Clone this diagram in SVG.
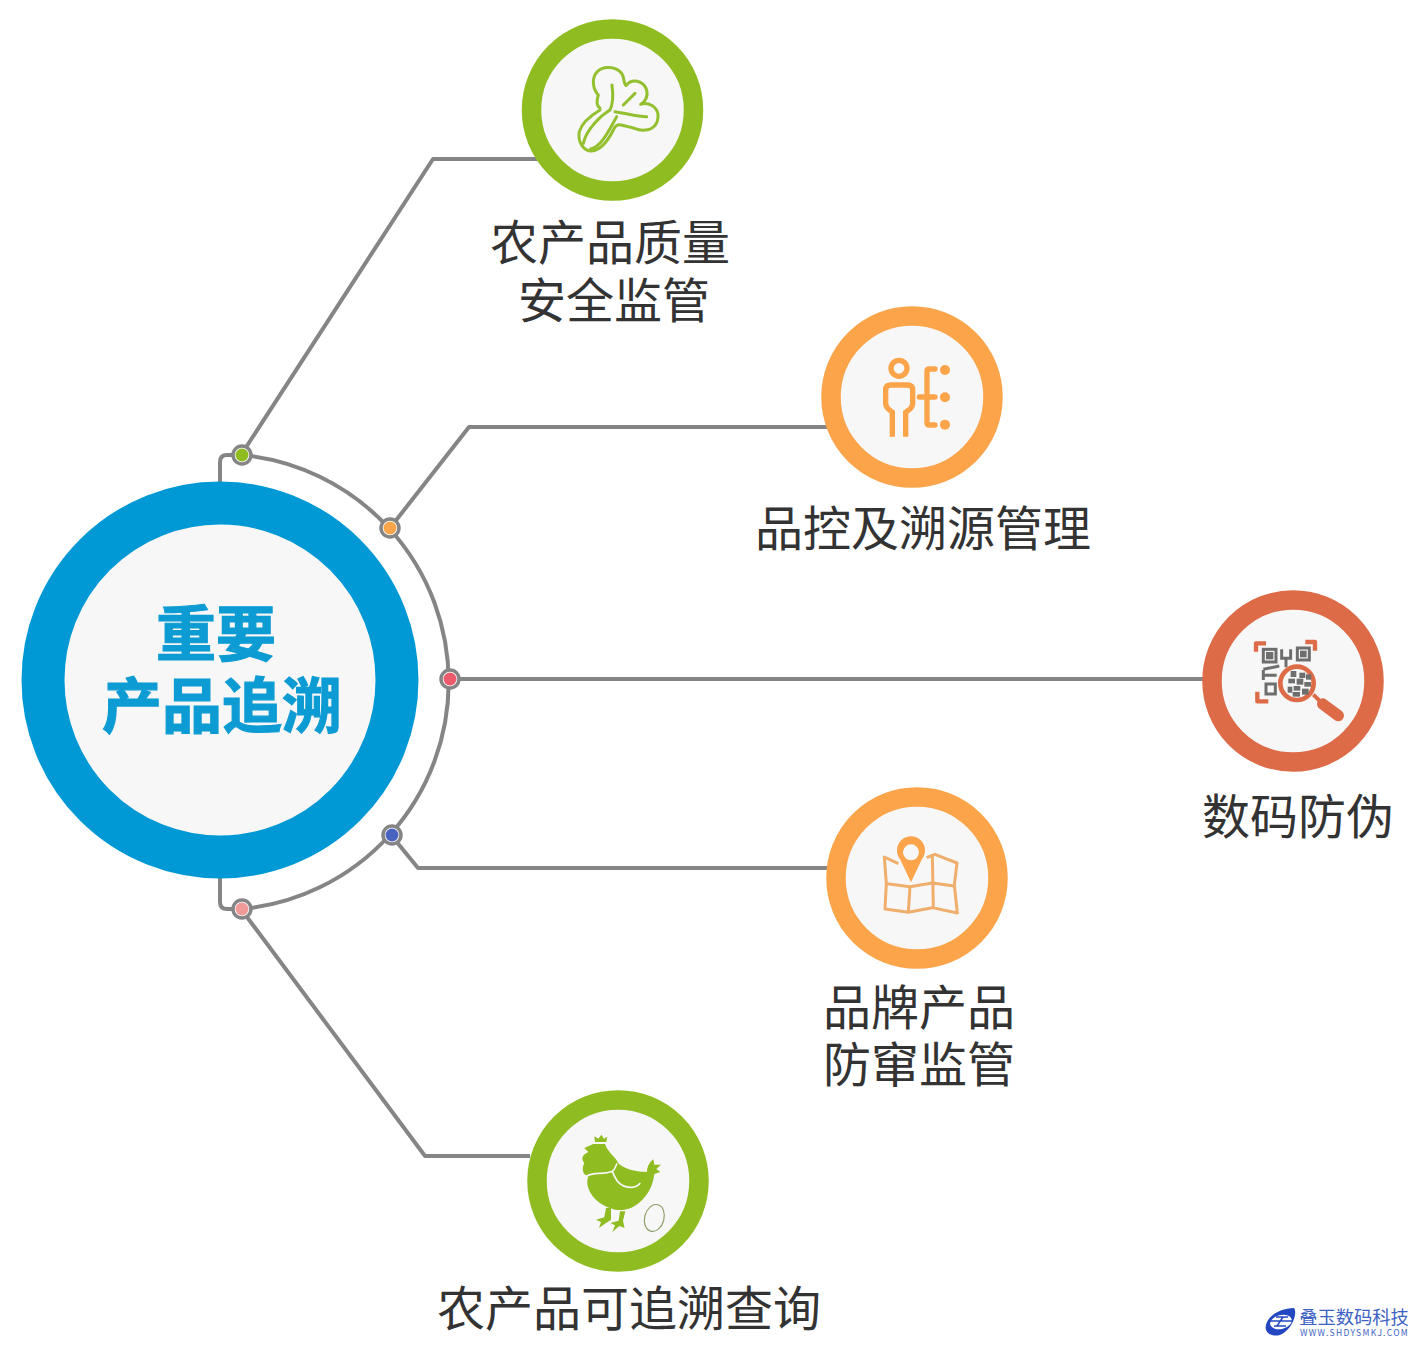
<svg xmlns="http://www.w3.org/2000/svg" width="1428" height="1357" viewBox="0 0 1428 1357">
<style>
.ring{fill:#f7f7f7;stroke-width:19.500}
.green{stroke:#8fbc21}.orange{stroke:#fba44a}.red{stroke:#de6b47}
.conn{fill:none;stroke:#858585;stroke-width:4;stroke-linejoin:round}
.dot{stroke:#858585;stroke-width:3.500;fill:#fff}
text{font-family:"Noto Sans CJK SC","Noto Sans",sans-serif;text-anchor:middle}
.lbl{font-size:48px;fill:#333}
.title{font-size:60px;font-weight:700;fill:#0d9bd3;stroke:#0d9bd3;stroke-width:1.200}
.ln{fill:none;stroke-linecap:round;stroke-linejoin:round}
.qr{fill:#6e6e6e}
</style>
<rect width="1428" height="1357" fill="#fff"/>
<g id="connectors">
<path class="conn" d="M241,455 L433,159 L540,159"/>
<path class="conn" d="M390,528 L469,427 L830,427"/>
<path class="conn" d="M449,679 L1205,679"/>
<path class="conn" d="M391,835 L418,868 L830,868"/>
<path class="conn" d="M241,909 L425,1156 L530,1156"/>
<path class="conn" d="M220,483 L220,462 Q220,455 227,455 L241,455"/>
<path class="conn" d="M220,878 L220,902 Q220,909 227,909 L241,909"/>
<path class="conn" d="M242,455 A228,228 0 0 1 242,909"/>
</g>
<g id="junctions">
<circle class="dot" cx="242" cy="455" r="9"/><circle cx="242" cy="455" r="6.500" fill="#8fbc21"/>
<circle class="dot" cx="390" cy="528" r="9"/><circle cx="390" cy="528" r="6.500" fill="#fba44a"/>
<circle class="dot" cx="450" cy="679" r="9"/><circle cx="450" cy="679" r="6.500" fill="#ec5a6c"/>
<circle class="dot" cx="392" cy="835" r="9"/><circle cx="392" cy="835" r="6.500" fill="#4a62c0"/>
<circle class="dot" cx="242" cy="909" r="9"/><circle cx="242" cy="909" r="6.500" fill="#f09a9a"/>
</g>
<g id="hub">
<circle cx="220" cy="680" r="177" fill="#f7f7f7" stroke="#0099d5" stroke-width="43"/>
<text class="title" x="216" y="656">重要</text>
<text class="title" x="222" y="728">产品追溯</text>
</g>
<g id="node-quality">
<circle class="ring green" cx="612.500" cy="110" r="81"/>
<g transform="translate(520,15) scale(.3333)" class="ln" stroke="#93c02f" stroke-width="9">
<path d="M240,280 C225,270 232,250 235,240 C220,225 212,190 232,170 C250,150 290,155 305,175 C315,190 308,200 318,212 C335,190 370,195 380,225 C385,245 375,262 362,268 C385,260 412,275 414,300 C416,330 395,345 375,345 C355,350 340,335 325,335 C305,332 290,320 280,345 C265,375 245,405 215,408 C190,408 172,380 178,350 C185,325 215,300 240,285"/>
<path d="M276,210 C280,240 280,265 270,285 C245,300 200,340 190,385"/>
<path d="M285,290 C320,295 350,305 380,305"/>
<path d="M310,270 L345,235"/>
<path d="M212,402 C245,395 270,340 290,305"/>
</g>
<text class="lbl" x="610" y="260">农产品质量</text>
<text class="lbl" x="614" y="318">安全监管</text>
</g>
<g id="node-control">
<circle class="ring orange" cx="912" cy="397" r="81"/>
<g transform="translate(820,305) scale(.3333)" fill="none" stroke="#fba44a" stroke-width="16">
<circle cx="237" cy="190" r="24"/>
<path d="M217,395 L217,322 L205,312 Q197,305 197,295 L197,255 Q197,240 212,240 L262,240 Q278,240 278,255 L278,295 Q278,305 270,312 L257,322 L257,395"/>
<path d="M345,192 L328,192 Q321,192 321,199 L321,353 Q321,360 328,360 L345,360 M298,276 L345,276" stroke-linecap="round"/>
<g fill="#fba44a" stroke="none"><circle cx="375" cy="195" r="15"/><circle cx="375" cy="277" r="15"/><circle cx="375" cy="359" r="15"/></g>
</g>
<text class="lbl" x="923" y="546">品控及溯源管理</text>
</g>
<g id="node-antifake">
<circle class="ring red" cx="1293" cy="681" r="81"/>
<g transform="translate(1200,590) scale(.3333)">
<g fill="none" stroke="#de6b47" stroke-width="13" stroke-linejoin="round">
<path d="M168,185 L168,160 L198,160"/>
<path d="M316,156 L345,156 L345,182"/>
<path d="M172,305 L172,334 L205,334"/>
</g>
<g fill="none" stroke="#6e6e6e" stroke-width="9">
<rect x="190" y="178" width="38" height="38"/>
<rect x="198" y="282" width="28" height="30"/>
<rect x="292" y="174" width="36" height="36"/>
<path d="M190,238 L238,228 M190,256 L230,256 M245,178 L245,205 L272,205 L272,178 M258,205 L258,232 M190,240 L190,270"/>
</g>
<rect class="qr" x="198" y="186" width="22" height="22"/><rect class="qr" x="300" y="182" width="20" height="20"/>
<circle cx="291" cy="280" r="50" fill="#f7f7f7" stroke="#de6b47" stroke-width="14"/>
<path d="M368,342 L415,377" stroke="#de6b47" stroke-width="34" stroke-linecap="round"/>
<path d="M340,314 L372,345" stroke="#de6b47" stroke-width="12"/>
<g class="qr"><rect x="272" y="243" width="17" height="18"/><rect x="298" y="248" width="18" height="16"/><rect x="318" y="253" width="16" height="16"/><rect x="265" y="266" width="20" height="14"/><rect x="290" y="266" width="20" height="18"/><rect x="313" y="276" width="20" height="14"/><rect x="263" y="290" width="14" height="18"/><rect x="281" y="288" width="20" height="14"/><rect x="306" y="296" width="20" height="18"/><rect x="278" y="306" width="22" height="14"/></g>
</g>
<text class="lbl" x="1298" y="834">数码防伪</text>
</g>
<g id="node-brand">
<circle class="ring orange" cx="917" cy="878" r="81"/>
<g transform="translate(825,785) scale(.3333)">
<g fill="none" stroke="#f0ae6c" stroke-width="9" stroke-linejoin="round">
<path d="M220,236 L178,216 L184,295 L180,372 L250,382 L322,368 L397,384 L388,300 L396,234 L330,208 L305,218"/>
<path d="M186,296 L255,305 L322,294 L388,303 M255,305 L250,382 M322,208 L325,368"/>
</g>
<path d="M258,292 L225,222 A42,42 0 1 1 291,222 Z" fill="#fba44a"/>
<circle cx="258" cy="202" r="24" fill="#f7f7f7"/>
</g>
<text class="lbl" x="919" y="1025">品牌产品</text>
<text class="lbl" x="919" y="1082">防窜监管</text>
</g>
<g id="node-query">
<circle class="ring green" cx="618" cy="1181" r="81"/>
<g transform="translate(525,1088) scale(.3333)">
<path d="M210,162 L208,145 L220,152 L229,140 L237,152 L247,146 L244,162 Z" fill="#8fbc21"/>
<path d="M178,180 L205,168 L240,168 C250,195 270,205 280,226 C300,245 335,252 366,252 C366,235 375,222 385,214 L388,230 L408,230 L394,243 L406,252 L388,258 C384,290 372,318 345,342 C325,360 300,370 270,365 C240,358 210,340 197,315 C185,295 185,278 190,265 C175,262 168,245 178,225 C170,215 170,205 180,198 L190,192 Z" fill="#8fbc21"/>
<path d="M243,360 L238,388 L213,395 L228,402 L222,420 L244,404 L258,396 L258,360 Z" fill="#8fbc21"/>
<path d="M285,370 L281,398 L256,405 L270,412 L262,432 L283,414 L299,420 L294,398 L301,370 Z" fill="#8fbc21"/>
<path d="M182,266 C205,250 235,262 262,250 C270,245 272,235 276,226 M262,250 C270,270 280,298 320,298 C332,298 340,292 346,285" fill="none" stroke="#f7f7f7" stroke-width="5"/>
<ellipse cx="388" cy="390" rx="29" ry="41" transform="rotate(15 388 390)" fill="none" stroke="#8e9f68" stroke-width="3.500"/>
</g>
<text class="lbl" x="629" y="1326">农产品可追溯查询</text>
</g>
<g id="logo">
<path d="M1266,1325 C1268,1315 1282,1308 1294,1308 C1298,1313 1292,1330 1280,1335 C1272,1337 1264,1333 1266,1325 Z" fill="#2347c0"/>
<ellipse cx="1281" cy="1322" rx="11" ry="7" transform="rotate(-15 1281 1322)" fill="#fff"/>
<path d="M1268,1321 L1292,1321 M1276,1317 L1288,1317 M1274,1326 L1286,1326 M1283,1317 L1277,1326" stroke="#2347c0" stroke-width="1.500" fill="none"/>
<text x="1354" y="1324" font-size="18.300" fill="#3d62c4">叠玉数码科技</text>
<text x="1354.500" y="1336" font-size="8.500" letter-spacing="1.300" fill="#3d62c4">WWW.SHDYSMKJ.COM</text>
</g>
</svg>
